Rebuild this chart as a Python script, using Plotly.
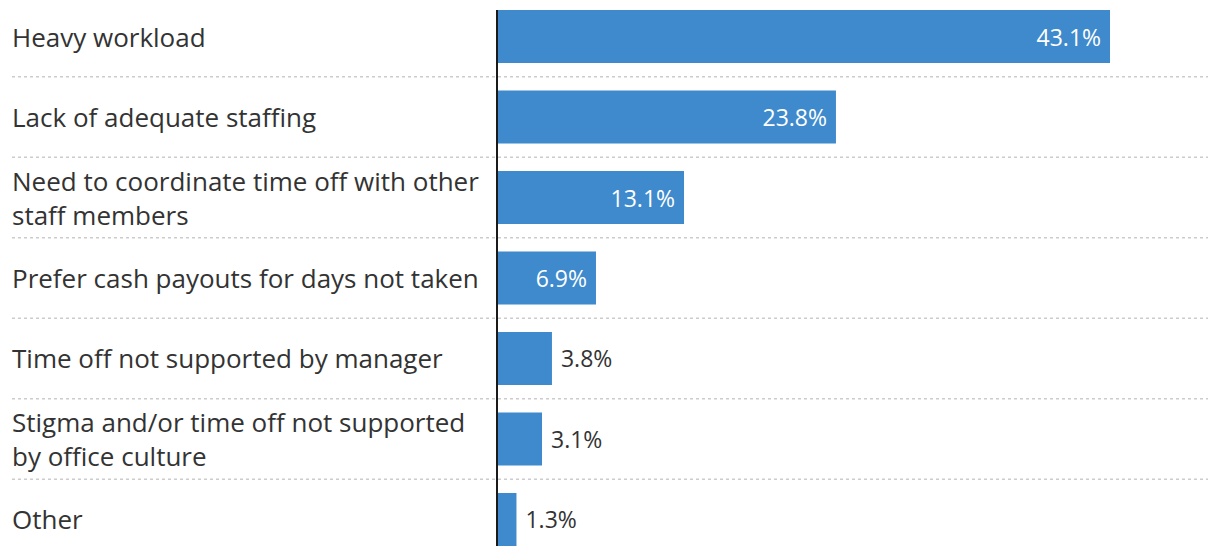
import plotly.graph_objects as go

categories = [
    "Heavy workload",
    "Lack of adequate staffing",
    "Need to coordinate time off with other<br>staff members",
    "Prefer cash payouts for days not taken",
    "Time off not supported by manager",
    "Stigma and/or time off not supported<br>by office culture",
    "Other",
]
values = [43.1, 23.8, 13.1, 6.9, 3.8, 3.1, 1.3]
text_positions = ["inside", "inside", "inside", "inside", "outside", "outside", "outside"]

FONT = "Open Sans"
TEXT_COLOR = "#333333"
BAR_COLOR = "#3e8acc"
NB = "\u00a0"

W, H = 1220, 558
ML, MR, MT, MB = 498, 12, 10, 12
plot_w = W - ML - MR
label_x = -(ML - 10) / plot_w
sep_x = -(ML - 12) / plot_w

idx = list(range(len(categories)))
templates = [
    ("%{x:.1f}%" + NB) if p == "inside" else (NB + "%{x:.1f}%")
    for p in text_positions
]

fig = go.Figure()
fig.add_trace(go.Bar(
    y=idx,
    x=values,
    orientation="h",
    marker=dict(color=BAR_COLOR, line=dict(width=0)),
    width=0.66,
    texttemplate=templates,
    textposition=text_positions,
    insidetextanchor="end",
    insidetextfont=dict(color="white", size=23, family=FONT),
    outsidetextfont=dict(color=TEXT_COLOR, size=23, family=FONT),
    constraintext="none",
    cliponaxis=False,
    hoverinfo="skip",
))

for i, c in enumerate(categories):
    fig.add_annotation(
        x=label_x, xref="paper", y=i, yref="y",
        text=c, showarrow=False, xanchor="left", yanchor="middle",
        align="left", font=dict(size=26, family=FONT, color=TEXT_COLOR),
    )

for i in range(len(categories) - 1):
    fig.add_shape(
        type="line", xref="paper", yref="y",
        x0=sep_x, x1=1, y0=i + 0.5, y1=i + 0.5,
        line=dict(color="#cccccc", width=1.5, dash="dot"),
        layer="below",
    )

fig.update_layout(
    width=W, height=H,
    margin=dict(l=ML, r=MR, t=MT, b=MB),
    paper_bgcolor="white", plot_bgcolor="white",
    showlegend=False,
    xaxis=dict(range=[0, 50], showgrid=False, zeroline=False,
               showticklabels=False, showline=False, fixedrange=True),
    yaxis=dict(range=[6.33, -0.33], showgrid=False, zeroline=False,
               showticklabels=False, showline=True, linecolor="#1a1a1a",
               linewidth=2, fixedrange=True),
    font=dict(family=FONT, color=TEXT_COLOR),
)

fig.write_html(
    "out.html",
    config={"displayModeBar": False},
    post_script="document.body.style.margin='0';document.body.style.padding='0';",
)
